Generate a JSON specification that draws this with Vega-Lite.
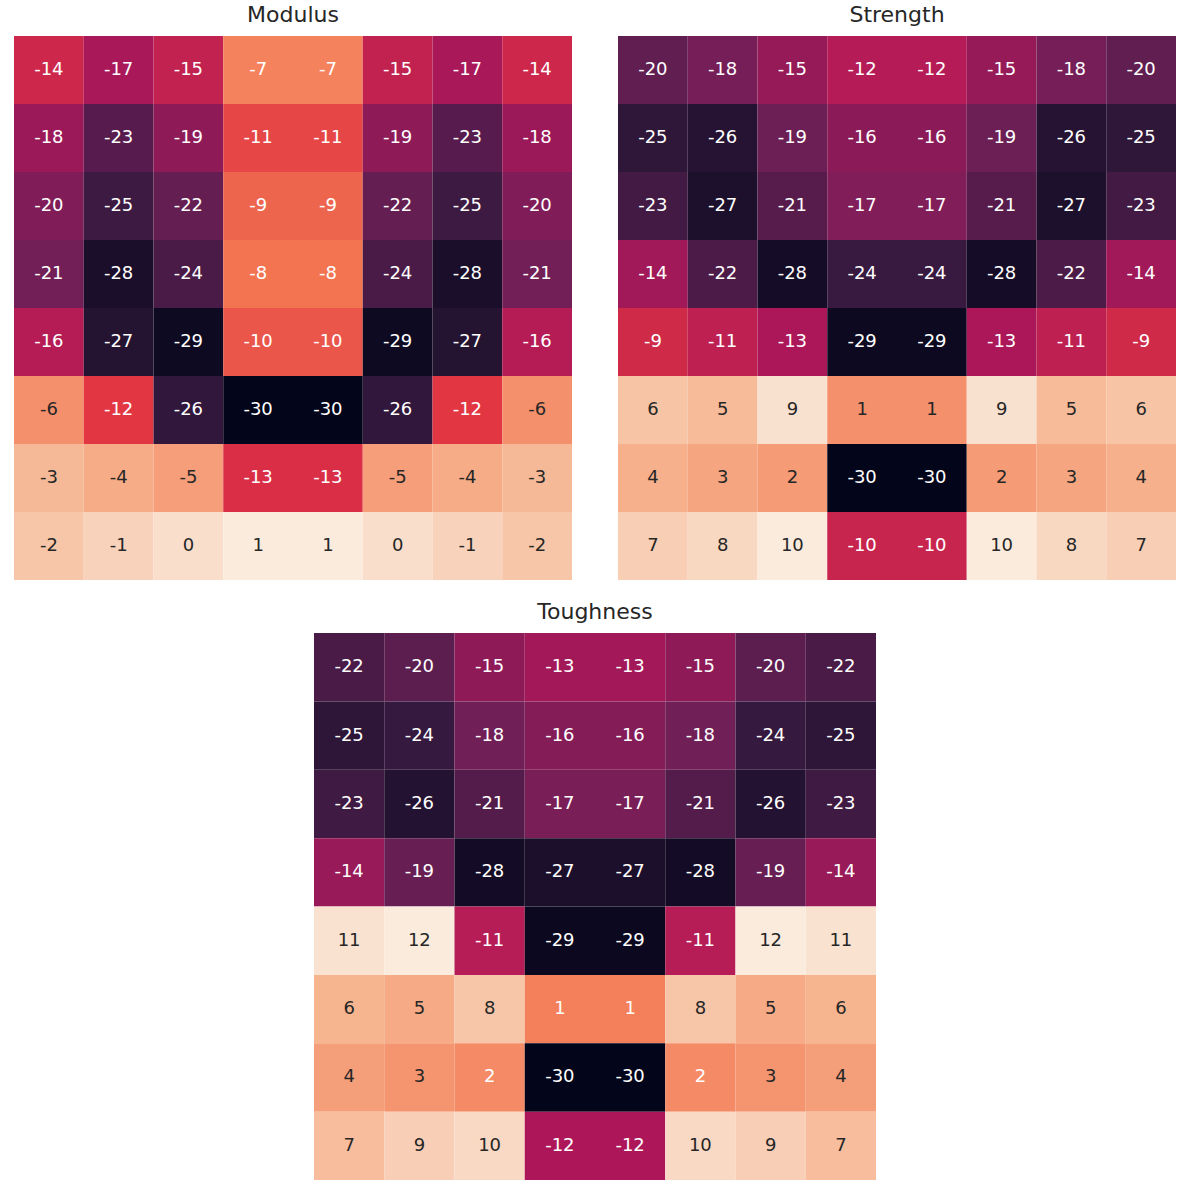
{
"$schema":"https://vega.github.io/schema/vega-lite/v6.json",
"padding":{"left":14,"top":4,"right":0,"bottom":0},
"background":"white",
"config":{"view":{"stroke":null},"title":{"font":"DejaVu Sans","fontSize":22,"fontWeight":"normal","color":"#262626","offset":9}},
"datasets":{"cells":[
{"panel":"Modulus","row":1,"col":1,"value":-14},{"panel":"Modulus","row":1,"col":2,"value":-17},{"panel":"Modulus","row":1,"col":3,"value":-15},{"panel":"Modulus","row":1,"col":4,"value":-7},{"panel":"Modulus","row":1,"col":5,"value":-7},{"panel":"Modulus","row":1,"col":6,"value":-15},{"panel":"Modulus","row":1,"col":7,"value":-17},{"panel":"Modulus","row":1,"col":8,"value":-14},
{"panel":"Modulus","row":2,"col":1,"value":-18},{"panel":"Modulus","row":2,"col":2,"value":-23},{"panel":"Modulus","row":2,"col":3,"value":-19},{"panel":"Modulus","row":2,"col":4,"value":-11},{"panel":"Modulus","row":2,"col":5,"value":-11},{"panel":"Modulus","row":2,"col":6,"value":-19},{"panel":"Modulus","row":2,"col":7,"value":-23},{"panel":"Modulus","row":2,"col":8,"value":-18},
{"panel":"Modulus","row":3,"col":1,"value":-20},{"panel":"Modulus","row":3,"col":2,"value":-25},{"panel":"Modulus","row":3,"col":3,"value":-22},{"panel":"Modulus","row":3,"col":4,"value":-9},{"panel":"Modulus","row":3,"col":5,"value":-9},{"panel":"Modulus","row":3,"col":6,"value":-22},{"panel":"Modulus","row":3,"col":7,"value":-25},{"panel":"Modulus","row":3,"col":8,"value":-20},
{"panel":"Modulus","row":4,"col":1,"value":-21},{"panel":"Modulus","row":4,"col":2,"value":-28},{"panel":"Modulus","row":4,"col":3,"value":-24},{"panel":"Modulus","row":4,"col":4,"value":-8},{"panel":"Modulus","row":4,"col":5,"value":-8},{"panel":"Modulus","row":4,"col":6,"value":-24},{"panel":"Modulus","row":4,"col":7,"value":-28},{"panel":"Modulus","row":4,"col":8,"value":-21},
{"panel":"Modulus","row":5,"col":1,"value":-16},{"panel":"Modulus","row":5,"col":2,"value":-27},{"panel":"Modulus","row":5,"col":3,"value":-29},{"panel":"Modulus","row":5,"col":4,"value":-10},{"panel":"Modulus","row":5,"col":5,"value":-10},{"panel":"Modulus","row":5,"col":6,"value":-29},{"panel":"Modulus","row":5,"col":7,"value":-27},{"panel":"Modulus","row":5,"col":8,"value":-16},
{"panel":"Modulus","row":6,"col":1,"value":-6},{"panel":"Modulus","row":6,"col":2,"value":-12},{"panel":"Modulus","row":6,"col":3,"value":-26},{"panel":"Modulus","row":6,"col":4,"value":-30},{"panel":"Modulus","row":6,"col":5,"value":-30},{"panel":"Modulus","row":6,"col":6,"value":-26},{"panel":"Modulus","row":6,"col":7,"value":-12},{"panel":"Modulus","row":6,"col":8,"value":-6},
{"panel":"Modulus","row":7,"col":1,"value":-3},{"panel":"Modulus","row":7,"col":2,"value":-4},{"panel":"Modulus","row":7,"col":3,"value":-5},{"panel":"Modulus","row":7,"col":4,"value":-13},{"panel":"Modulus","row":7,"col":5,"value":-13},{"panel":"Modulus","row":7,"col":6,"value":-5},{"panel":"Modulus","row":7,"col":7,"value":-4},{"panel":"Modulus","row":7,"col":8,"value":-3},
{"panel":"Modulus","row":8,"col":1,"value":-2},{"panel":"Modulus","row":8,"col":2,"value":-1},{"panel":"Modulus","row":8,"col":3,"value":0},{"panel":"Modulus","row":8,"col":4,"value":1},{"panel":"Modulus","row":8,"col":5,"value":1},{"panel":"Modulus","row":8,"col":6,"value":0},{"panel":"Modulus","row":8,"col":7,"value":-1},{"panel":"Modulus","row":8,"col":8,"value":-2},
{"panel":"Strength","row":1,"col":1,"value":-20},{"panel":"Strength","row":1,"col":2,"value":-18},{"panel":"Strength","row":1,"col":3,"value":-15},{"panel":"Strength","row":1,"col":4,"value":-12},{"panel":"Strength","row":1,"col":5,"value":-12},{"panel":"Strength","row":1,"col":6,"value":-15},{"panel":"Strength","row":1,"col":7,"value":-18},{"panel":"Strength","row":1,"col":8,"value":-20},
{"panel":"Strength","row":2,"col":1,"value":-25},{"panel":"Strength","row":2,"col":2,"value":-26},{"panel":"Strength","row":2,"col":3,"value":-19},{"panel":"Strength","row":2,"col":4,"value":-16},{"panel":"Strength","row":2,"col":5,"value":-16},{"panel":"Strength","row":2,"col":6,"value":-19},{"panel":"Strength","row":2,"col":7,"value":-26},{"panel":"Strength","row":2,"col":8,"value":-25},
{"panel":"Strength","row":3,"col":1,"value":-23},{"panel":"Strength","row":3,"col":2,"value":-27},{"panel":"Strength","row":3,"col":3,"value":-21},{"panel":"Strength","row":3,"col":4,"value":-17},{"panel":"Strength","row":3,"col":5,"value":-17},{"panel":"Strength","row":3,"col":6,"value":-21},{"panel":"Strength","row":3,"col":7,"value":-27},{"panel":"Strength","row":3,"col":8,"value":-23},
{"panel":"Strength","row":4,"col":1,"value":-14},{"panel":"Strength","row":4,"col":2,"value":-22},{"panel":"Strength","row":4,"col":3,"value":-28},{"panel":"Strength","row":4,"col":4,"value":-24},{"panel":"Strength","row":4,"col":5,"value":-24},{"panel":"Strength","row":4,"col":6,"value":-28},{"panel":"Strength","row":4,"col":7,"value":-22},{"panel":"Strength","row":4,"col":8,"value":-14},
{"panel":"Strength","row":5,"col":1,"value":-9},{"panel":"Strength","row":5,"col":2,"value":-11},{"panel":"Strength","row":5,"col":3,"value":-13},{"panel":"Strength","row":5,"col":4,"value":-29},{"panel":"Strength","row":5,"col":5,"value":-29},{"panel":"Strength","row":5,"col":6,"value":-13},{"panel":"Strength","row":5,"col":7,"value":-11},{"panel":"Strength","row":5,"col":8,"value":-9},
{"panel":"Strength","row":6,"col":1,"value":6},{"panel":"Strength","row":6,"col":2,"value":5},{"panel":"Strength","row":6,"col":3,"value":9},{"panel":"Strength","row":6,"col":4,"value":1},{"panel":"Strength","row":6,"col":5,"value":1},{"panel":"Strength","row":6,"col":6,"value":9},{"panel":"Strength","row":6,"col":7,"value":5},{"panel":"Strength","row":6,"col":8,"value":6},
{"panel":"Strength","row":7,"col":1,"value":4},{"panel":"Strength","row":7,"col":2,"value":3},{"panel":"Strength","row":7,"col":3,"value":2},{"panel":"Strength","row":7,"col":4,"value":-30},{"panel":"Strength","row":7,"col":5,"value":-30},{"panel":"Strength","row":7,"col":6,"value":2},{"panel":"Strength","row":7,"col":7,"value":3},{"panel":"Strength","row":7,"col":8,"value":4},
{"panel":"Strength","row":8,"col":1,"value":7},{"panel":"Strength","row":8,"col":2,"value":8},{"panel":"Strength","row":8,"col":3,"value":10},{"panel":"Strength","row":8,"col":4,"value":-10},{"panel":"Strength","row":8,"col":5,"value":-10},{"panel":"Strength","row":8,"col":6,"value":10},{"panel":"Strength","row":8,"col":7,"value":8},{"panel":"Strength","row":8,"col":8,"value":7},
{"panel":"Toughness","row":1,"col":1,"value":-22},{"panel":"Toughness","row":1,"col":2,"value":-20},{"panel":"Toughness","row":1,"col":3,"value":-15},{"panel":"Toughness","row":1,"col":4,"value":-13},{"panel":"Toughness","row":1,"col":5,"value":-13},{"panel":"Toughness","row":1,"col":6,"value":-15},{"panel":"Toughness","row":1,"col":7,"value":-20},{"panel":"Toughness","row":1,"col":8,"value":-22},
{"panel":"Toughness","row":2,"col":1,"value":-25},{"panel":"Toughness","row":2,"col":2,"value":-24},{"panel":"Toughness","row":2,"col":3,"value":-18},{"panel":"Toughness","row":2,"col":4,"value":-16},{"panel":"Toughness","row":2,"col":5,"value":-16},{"panel":"Toughness","row":2,"col":6,"value":-18},{"panel":"Toughness","row":2,"col":7,"value":-24},{"panel":"Toughness","row":2,"col":8,"value":-25},
{"panel":"Toughness","row":3,"col":1,"value":-23},{"panel":"Toughness","row":3,"col":2,"value":-26},{"panel":"Toughness","row":3,"col":3,"value":-21},{"panel":"Toughness","row":3,"col":4,"value":-17},{"panel":"Toughness","row":3,"col":5,"value":-17},{"panel":"Toughness","row":3,"col":6,"value":-21},{"panel":"Toughness","row":3,"col":7,"value":-26},{"panel":"Toughness","row":3,"col":8,"value":-23},
{"panel":"Toughness","row":4,"col":1,"value":-14},{"panel":"Toughness","row":4,"col":2,"value":-19},{"panel":"Toughness","row":4,"col":3,"value":-28},{"panel":"Toughness","row":4,"col":4,"value":-27},{"panel":"Toughness","row":4,"col":5,"value":-27},{"panel":"Toughness","row":4,"col":6,"value":-28},{"panel":"Toughness","row":4,"col":7,"value":-19},{"panel":"Toughness","row":4,"col":8,"value":-14},
{"panel":"Toughness","row":5,"col":1,"value":11},{"panel":"Toughness","row":5,"col":2,"value":12},{"panel":"Toughness","row":5,"col":3,"value":-11},{"panel":"Toughness","row":5,"col":4,"value":-29},{"panel":"Toughness","row":5,"col":5,"value":-29},{"panel":"Toughness","row":5,"col":6,"value":-11},{"panel":"Toughness","row":5,"col":7,"value":12},{"panel":"Toughness","row":5,"col":8,"value":11},
{"panel":"Toughness","row":6,"col":1,"value":6},{"panel":"Toughness","row":6,"col":2,"value":5},{"panel":"Toughness","row":6,"col":3,"value":8},{"panel":"Toughness","row":6,"col":4,"value":1},{"panel":"Toughness","row":6,"col":5,"value":1},{"panel":"Toughness","row":6,"col":6,"value":8},{"panel":"Toughness","row":6,"col":7,"value":5},{"panel":"Toughness","row":6,"col":8,"value":6},
{"panel":"Toughness","row":7,"col":1,"value":4},{"panel":"Toughness","row":7,"col":2,"value":3},{"panel":"Toughness","row":7,"col":3,"value":2},{"panel":"Toughness","row":7,"col":4,"value":-30},{"panel":"Toughness","row":7,"col":5,"value":-30},{"panel":"Toughness","row":7,"col":6,"value":2},{"panel":"Toughness","row":7,"col":7,"value":3},{"panel":"Toughness","row":7,"col":8,"value":4},
{"panel":"Toughness","row":8,"col":1,"value":7},{"panel":"Toughness","row":8,"col":2,"value":9},{"panel":"Toughness","row":8,"col":3,"value":10},{"panel":"Toughness","row":8,"col":4,"value":-12},{"panel":"Toughness","row":8,"col":5,"value":-12},{"panel":"Toughness","row":8,"col":6,"value":10},{"panel":"Toughness","row":8,"col":7,"value":9},{"panel":"Toughness","row":8,"col":8,"value":7}
]},
"vconcat":[
 {"hconcat":[
  {"title":{"text":"Modulus"},"width":558,"height":544,"data":{"name":"cells"},
   "transform":[{"filter":"datum.panel === 'Modulus'"}],
   "encoding":{"x":{"field":"col","type":"ordinal","axis":null},"y":{"field":"row","type":"ordinal","axis":null}},
   "layer":[
    {"mark":{"type":"rect"},"encoding":{"color":{"field":"value","type":"quantitative","legend":null,"scale":{"domain":[-30,1],"range":["#03051a","#35193e","#701f57","#ad1759","#e13342","#f37651","#f6b48f","#faebdd"],"interpolate":"rgb"}}}},
    {"mark":{"type":"text","font":"DejaVu Sans","fontSize":18},"encoding":{"text":{"field":"value","type":"nominal"},"color":{"condition":{"test":"datum.value < -6.1","value":"#ffffff"},"value":"#262626"}}}
   ]},
  {"title":{"text":"Strength"},"width":558,"height":544,"data":{"name":"cells"},
   "transform":[{"filter":"datum.panel === 'Strength'"}],
   "encoding":{"x":{"field":"col","type":"ordinal","axis":null},"y":{"field":"row","type":"ordinal","axis":null}},
   "layer":[
    {"mark":{"type":"rect"},"encoding":{"color":{"field":"value","type":"quantitative","legend":null,"scale":{"domain":[-30,10],"range":["#03051a","#35193e","#701f57","#ad1759","#e13342","#f37651","#f6b48f","#faebdd"],"interpolate":"rgb"}}}},
    {"mark":{"type":"text","font":"DejaVu Sans","fontSize":18},"encoding":{"text":{"field":"value","type":"nominal"},"color":{"condition":{"test":"datum.value < 0.8","value":"#ffffff"},"value":"#262626"}}}
   ]}
 ],"spacing":46,"resolve":{"scale":{"color":"independent","x":"independent","y":"independent"}}},
 {"title":{"text":"Toughness"},"width":562,"height":547,"data":{"name":"cells"},
  "transform":[{"filter":"datum.panel === 'Toughness'"}],
  "encoding":{"x":{"field":"col","type":"ordinal","axis":null},"y":{"field":"row","type":"ordinal","axis":null}},
  "layer":[
   {"mark":{"type":"rect"},"encoding":{"color":{"field":"value","type":"quantitative","legend":null,"scale":{"domain":[-30,12],"range":["#03051a","#35193e","#701f57","#ad1759","#e13342","#f37651","#f6b48f","#faebdd"],"interpolate":"rgb"}}}},
   {"mark":{"type":"text","font":"DejaVu Sans","fontSize":18},"encoding":{"text":{"field":"value","type":"nominal"},"color":{"condition":{"test":"datum.value < 2.4","value":"#ffffff"},"value":"#262626"}}}
  ]}
],
"spacing":21,
"center":true,
"resolve":{"scale":{"color":"independent","x":"independent","y":"independent"}}
}
